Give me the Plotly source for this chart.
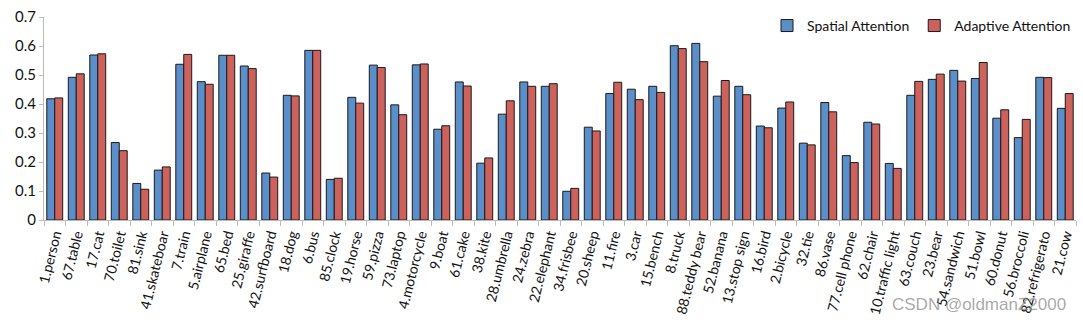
import plotly.graph_objects as go

categories = [
    "1.person", "67.table", "17.cat", "70.toilet", "81.sink", "41.skateboar",
    "7.train", "5.airplane", "65.bed", "25.giraffe", "42.surfboard", "18.dog",
    "6.bus", "85.clock", "19.horse", "59.pizza", "73.laptop", "4.motorcycle",
    "9.boat", "61.cake", "38.kite", "28.umbrella", "24.zebra", "22.elephant",
    "34.frisbee", "20.sheep", "11.fire", "3.car", "15.bench", "8.truck",
    "88.teddy bear", "52.banana", "13.stop sign", "16.bird", "2.bicycle", "32.tie",
    "86.vase", "77.cell phone", "62.chair", "10.traffic light", "63.couch", "23.bear",
    "54.sandwich", "51.bowl", "60.donut", "56.broccoli", "82.refrigerato", "21.cow",
]

spatial = [
    0.418, 0.492, 0.569, 0.267, 0.126, 0.172,
    0.537, 0.477, 0.568, 0.531, 0.162, 0.430,
    0.585, 0.140, 0.423, 0.534, 0.397, 0.535,
    0.313, 0.476, 0.196, 0.365, 0.476, 0.461,
    0.099, 0.320, 0.436, 0.451, 0.461, 0.601,
    0.609, 0.427, 0.461, 0.324, 0.386, 0.265,
    0.405, 0.222, 0.337, 0.195, 0.430, 0.485,
    0.516, 0.488, 0.351, 0.284, 0.492, 0.385,
]

adaptive = [
    0.421, 0.504, 0.573, 0.239, 0.106, 0.183,
    0.571, 0.468, 0.568, 0.522, 0.148, 0.428,
    0.585, 0.144, 0.403, 0.526, 0.363, 0.538,
    0.325, 0.462, 0.214, 0.411, 0.461, 0.470,
    0.109, 0.307, 0.475, 0.415, 0.440, 0.591,
    0.546, 0.481, 0.432, 0.318, 0.407, 0.259,
    0.373, 0.198, 0.331, 0.178, 0.478, 0.503,
    0.479, 0.543, 0.380, 0.347, 0.491, 0.436,
]

y_ticks = [0, 0.1, 0.2, 0.3, 0.4, 0.5, 0.6, 0.7]
y_tick_labels = ["0", "0.1", "0.2", "0.3", "0.4", "0.5", "0.6", "0.7"]

FONT = "Lato, Noto Sans, sans-serif"

fig = go.Figure()
fig.add_trace(go.Bar(
    name="Spatial Attention", x=categories, y=spatial,
    marker=dict(color="#5B8FCA", line=dict(color="#1a1a1a", width=1)),
))
fig.add_trace(go.Bar(
    name="Adaptive Attention", x=categories, y=adaptive,
    marker=dict(color="#CD625C", line=dict(color="#1a1a1a", width=1)),
))

fig.update_layout(
    width=1083, height=325,
    margin=dict(l=44, r=7, t=15, b=105),
    paper_bgcolor="white", plot_bgcolor="white",
    barmode="group", bargap=0.26, bargroupgap=0,
    font=dict(family=FONT, size=14, color="#111"),
    showlegend=True,
    legend=dict(
        orientation="h", x=1.0, xanchor="right", y=0.956, yanchor="middle",
        font=dict(family=FONT, size=14, color="#111"),
        bgcolor="rgba(0,0,0,0)", itemwidth=30,
    ),
    xaxis=dict(
        type="category", tickangle=-76,
        showline=True, linecolor="#BBBBBB", linewidth=1,
        ticks="outside", tickson="boundaries", ticklen=5, tickcolor="#BBBBBB",
        showgrid=False, tickfont=dict(family=FONT, size=14, color="#111"),
    ),
    yaxis=dict(
        range=[0, 0.7], tickvals=y_ticks, ticktext=y_tick_labels,
        showline=True, linecolor="#BBBBBB", linewidth=1,
        ticks="outside", ticklen=4, tickcolor="#BBBBBB",
        showgrid=False, zeroline=False,
        tickfont=dict(family=FONT, size=15, color="#111"),
    ),
)

fig.add_annotation(
    text="CSDN @oldmanZ2000", xref="paper", yref="paper",
    x=0.992, y=-0.415, xanchor="right", yanchor="middle", showarrow=False,
    font=dict(family="Liberation Sans, Arial, sans-serif", size=17, color="rgba(140,140,140,0.75)"),
)

fig.write_html("out.html")
